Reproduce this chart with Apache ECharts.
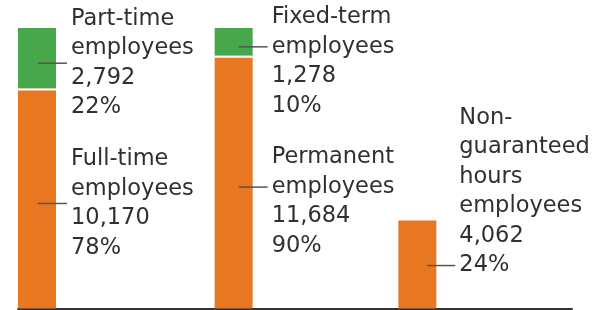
<!DOCTYPE html>
<html>
<head>
<meta charset="utf-8">
<title>Employees by contract</title>
<script src="https://cdn.jsdelivr.net/npm/echarts@6/dist/echarts.min.js"></script>
<style>
  html, body { margin: 0; padding: 0; background: #fff; }
  #main { width: 593px; height: 310px; }
</style>
</head>
<body>
<div id="main"></div>
<script>
// data
var groups = ['Working pattern', 'Contract type', 'Hours'];
var baseNames = ['Full-time\nemployees', 'Permanent\nemployees', 'Non-\nguaranteed\nhours\nemployees'];
var baseValues = [10170, 11684, 4062];
var basePct = [78, 90, 24];
var topNames = ['Part-time\nemployees', 'Fixed-term\nemployees', ''];
var topValues = [2792, 1278, 0];
var topPct = [22, 10, 0];

// layout
var ORANGE = '#E87722';
var GREEN = '#47A84B';
var BAR_W = 38;
var LH = 29.5;
var FONT = '22.5px "DejaVu Sans"';
var barInset = [0, 12, 11];      // px from band start
var leaderStart = [1, 5, 10];    // px from bar centre
var textGap = [15, 19, 23];      // px from bar right edge
var anchorLine = [2, 1.5, 5.5];  // leader position inside the text block, in lines
var nudge = [5, 5, 1];

function fmt(v) {
  return String(v).replace(/\B(?=(\d{3})+(?!\d))/g, ',');
}

var totals = baseValues.map(function (v, i) { return v + topValues[i]; });

function label(children, i, yA, yB, x0, text) {
  var ly = (yA + yB) / 2 + nudge[i];
  var tx = x0 + BAR_W + textGap[i];
  children.push({
    type: 'line',
    shape: { x1: x0 + BAR_W / 2 + leaderStart[i], y1: ly, x2: tx - 4, y2: ly },
    style: { stroke: '#555', lineWidth: 1.5 }
  });
  children.push({
    type: 'text',
    style: {
      text: text, x: tx, y: ly - anchorLine[i] * LH,
      font: FONT, fill: '#303030', lineHeight: LH, verticalAlign: 'top'
    }
  });
}

function renderItem(params, api) {
  var i = api.value(0);
  var base = api.value(1), top = api.value(2);
  var band = api.size([1, 0])[0];
  var p0 = api.coord([i, 0]);
  var x0 = p0[0] - band / 2 + barInset[i];
  var y0 = p0[1];
  var yBase = api.coord([i, base])[1];
  var yTop = api.coord([i, base + top])[1];
  var children = [];
  children.push({ type: 'rect', shape: { x: x0, y: yBase, width: BAR_W, height: y0 - yBase }, style: { fill: ORANGE } });
  if (top > 0) {
    children.push({ type: 'rect', shape: { x: x0, y: yTop, width: BAR_W, height: yBase - yTop }, style: { fill: GREEN } });
    children.push({ type: 'line', shape: { x1: x0, y1: yBase + 1, x2: x0 + BAR_W, y2: yBase + 1 }, style: { stroke: '#fff', lineWidth: 2 } });
    label(children, i, yTop, yBase, x0, topNames[i] + '\n' + fmt(topValues[i]) + '\n' + topPct[i] + '%');
  }
  label(children, i, yBase, y0, x0, baseNames[i] + '\n' + fmt(baseValues[i]) + '\n' + basePct[i] + '%');
  return { type: 'group', children: children };
}

var chart = echarts.init(document.getElementById('main'));
chart.setOption({
  animation: false,
  grid: { left: 18, right: 21, top: 28, bottom: 1.5 },
  xAxis: {
    type: 'category',
    data: groups,
    axisLine: { show: true, lineStyle: { color: '#333', width: 2 } },
    axisTick: { show: false },
    axisLabel: { show: false }
  },
  yAxis: {
    type: 'value', min: 0, max: Math.max.apply(null, totals),
    show: false, splitLine: { show: false }
  },
  series: [{
    type: 'custom',
    renderItem: renderItem,
    data: groups.map(function (g, i) { return [i, baseValues[i], topValues[i]]; }),
    z: 1
  }]
});
</script>
</body>
</html>
